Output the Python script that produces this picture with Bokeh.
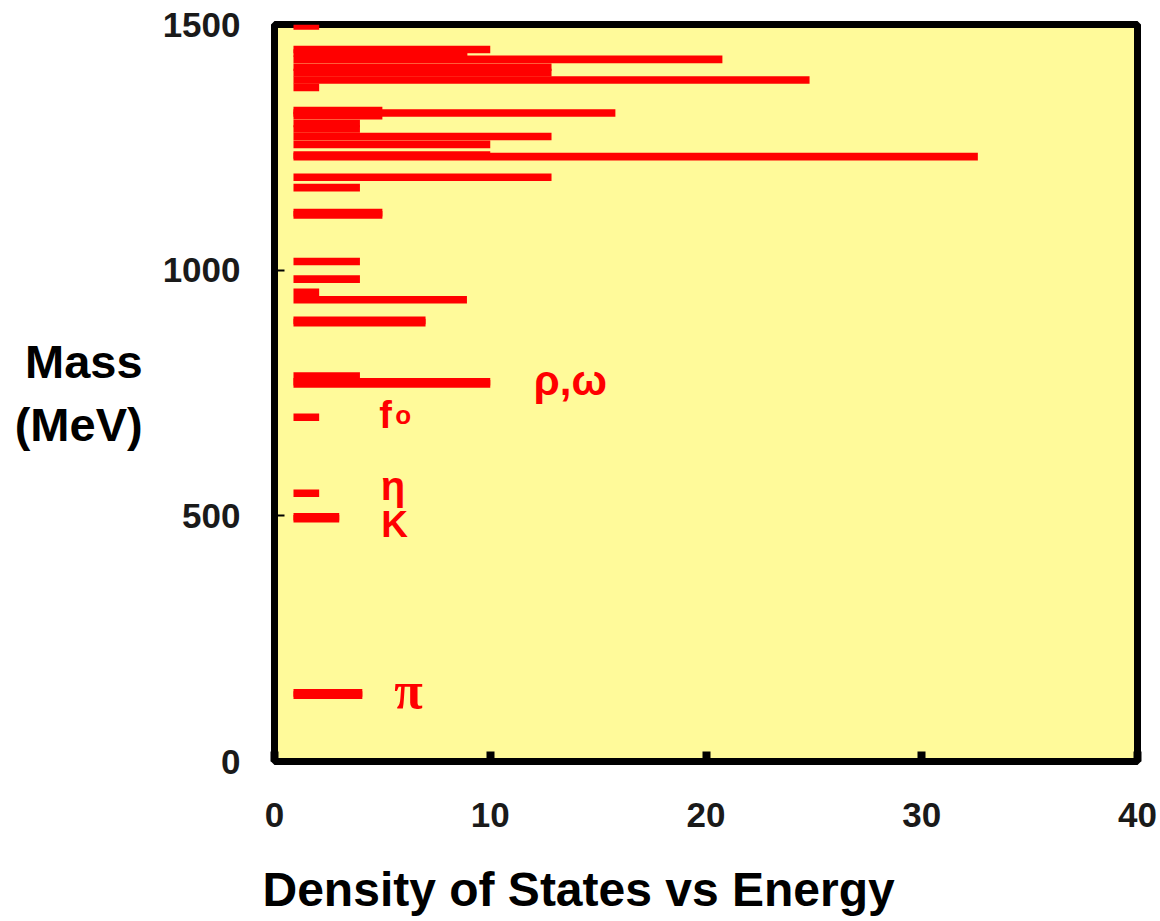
from bokeh.plotting import figure
from bokeh.models import Label, FixedTicker, ColumnDataSource, Range1d, Title
from bokeh.embed import file_html
from bokeh.resources import INLINE

# ---- data ----
# meson mass levels (MeV) and the x value at which each level's bar ends
mass_mev = [135.0, 139.6, 494.0, 498.0, 546.0, 700.6,
            768.5, 773.0, 784.3,
            893.3, 897.8, 939.7, 955.0, 981.7, 1017.7,
            1112.6, 1117.0, 1168.0, 1189.0,
            1231.0, 1234.5, 1256.0, 1272.0, 1287.4, 1298.6,
            1314.5, 1320.0, 1325.0,
            1372.0, 1387.0, 1402.0, 1413.0, 1429.0, 1442.0, 1449.0, 1497.0]
states_end = [4.07, 4.07, 3.0, 3.0, 2.07, 2.07,
              10.0, 10.0, 3.96,
              7.0, 7.0, 8.92, 2.07, 3.96, 3.96,
              5.0, 5.0, 3.96, 12.84,
              32.6, 10.0, 10.0, 12.84, 3.96, 3.96,
              5.0, 15.8, 5.0,
              2.07, 24.8, 12.84, 12.84, 20.76, 8.94, 10.0, 2.07]
bar_start = 0.88

x_ticks = [0, 10, 20, 30, 40]
y_ticks = [0, 500, 1000, 1500]

particle_names = ["\u03c1,\u03c9", "f", "o", "\u03b7", "K", "\u03c0"]
name_x = [12.02, 4.85, 5.6, 4.92, 4.95, 5.55]
name_y = [775, 706, 706, 560, 482, 145]

x_title = "Density of States vs Energy"
y_title = "Mass\n(MeV)"

# ---- figure ----
p = figure(frame_width=863, frame_height=737,
           min_border_left=274, min_border_right=22,
           min_border_top=24, min_border_bottom=159,
           x_range=Range1d(0, 40), y_range=Range1d(0, 1500),
           output_backend="svg", toolbar_location=None)

p.background_fill_color = "#FFFA9A"
p.border_fill_color = "white"
p.outline_line_color = "black"
p.outline_line_width = 7
p.xgrid.visible = False
p.ygrid.visible = False

src = ColumnDataSource(dict(mass=mass_mev, end=states_end))
p.hbar(y="mass", left=bar_start, right="end", height=15.5, source=src,
       fill_color="#FF0000", line_color=None)

for ax in (p.xaxis[0], p.yaxis[0]):
    ax.axis_line_color = None
    ax.minor_tick_line_color = None
    ax.major_tick_out = 0
    ax.major_tick_in = 10
    ax.major_tick_line_color = "black"
    ax.major_label_text_font = "Liberation Sans"
    ax.major_label_text_font_style = "bold"
    ax.major_label_text_font_size = "35px"
    ax.major_label_text_color = "#1a1a1a"

p.xaxis[0].ticker = FixedTicker(ticks=x_ticks)
p.yaxis[0].ticker = FixedTicker(ticks=y_ticks)
p.xaxis[0].major_tick_line_width = 8
p.yaxis[0].major_tick_line_width = 2
p.xaxis[0].major_label_standoff = 41
p.yaxis[0].major_label_standoff = 34

yax = p.yaxis[0]
yax.axis_label = y_title
yax.axis_label_orientation = "horizontal"
yax.axis_label_standoff = 17
yax.axis_label_text_font = "Liberation Sans"
yax.axis_label_text_font_style = "bold"
yax.axis_label_text_font_size = "47px"
yax.axis_label_text_color = "black"
yax.axis_label_text_align = "center"

p.add_layout(Title(text=x_title, align="left", offset=-12, standoff=62,
                   text_font="Liberation Sans", text_font_style="bold",
                   text_font_size="48px", text_color="black"), "below")

# particle names
styles = [("Liberation Sans", "bold", "42px"),
          ("Liberation Sans", "bold", "38px"),
          ("Liberation Sans", "bold", "26px"),
          ("Liberation Sans", "bold", "40px"),
          ("Liberation Sans", "bold", "37px"),
          ("Liberation Serif", "bold", "52px")]
for t, x, y, (fnt, fs, sz) in zip(particle_names, name_x, name_y, styles):
    p.add_layout(Label(x=x, y=y, text=t, text_color="#FF0000",
                       text_font=fnt, text_font_style=fs, text_font_size=sz,
                       text_align="left", text_baseline="alphabetic"))

open("out.html", "w").write(file_html(p, INLINE))
